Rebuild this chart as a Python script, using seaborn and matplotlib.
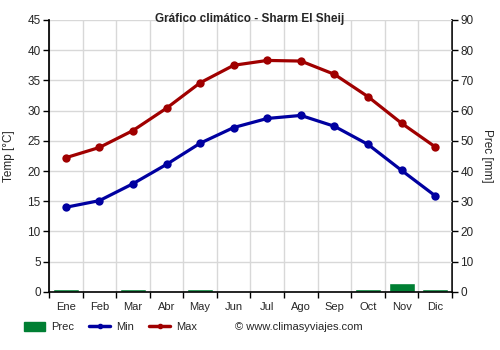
import matplotlib
matplotlib.use("Agg")
import matplotlib.pyplot as plt
import seaborn as sns
import pandas as pd
import numpy as np
from matplotlib.patches import Patch
from matplotlib.lines import Line2D

months = ["Ene", "Feb", "Mar", "Abr", "May", "Jun", "Jul", "Ago", "Sep", "Oct", "Nov", "Dic"]
temp_min = [14.0, 15.1, 17.9, 21.1, 24.6, 27.2, 28.7, 29.2, 27.4, 24.4, 20.1, 15.9]
temp_max = [22.2, 23.9, 26.7, 30.4, 34.6, 37.5, 38.3, 38.2, 36.0, 32.3, 27.9, 24.0]
prec = [1, 0, 1, 0, 1, 0, 0, 0, 0, 1, 3, 1]

c_prec = "#007F33"
c_min = "#0000A0"
c_max = "#A00000"

sns.set_theme(style="white")
plt.rcParams['font.family'] = ['Liberation Sans', 'DejaVu Sans']

df = pd.DataFrame({"month": months, "min": temp_min, "max": temp_max, "prec": prec})

fig = plt.figure(figsize=(5, 3.5), dpi=100)
ax = fig.add_axes([0.098, 0.166, 0.806, 0.777])
ax2 = ax.twinx()

sns.barplot(data=df, x="month", y="prec", ax=ax2, color=c_prec, width=0.78,
            saturation=1, order=months)
ax2.set_ylim(0, 90)
ax2.set_yticks(np.arange(0, 91, 10))
ax2.set_ylabel("Prec [mm]", rotation=270, labelpad=14, fontsize=8.5)

ax.set_zorder(ax2.get_zorder() + 1)
ax.patch.set_visible(False)

sns.lineplot(x=np.arange(12), y=temp_min, ax=ax, color=c_min, lw=2.3, marker="o",
             markersize=6, markeredgewidth=0, zorder=3)
sns.lineplot(x=np.arange(12), y=temp_max, ax=ax, color=c_max, lw=2.3, marker="o",
             markersize=6, markeredgewidth=0, zorder=3)

ax.set_xlim(-0.5, 11.5)
ax.set_ylim(0, 45)
ax.set_yticks(np.arange(0, 46, 5))
ax.set_xticks(range(12))
ax.set_xticklabels(months)
ax.set_xticks(np.arange(-0.5, 12, 1), minor=True)
ax.grid(True, which="minor", axis="x", color="#d8d8d8", lw=1, zorder=0)
ax.grid(True, which="major", axis="y", color="#d8d8d8", lw=1, zorder=0)
ax.set_axisbelow(True)
ax.set_ylabel("Temp [°C]", fontsize=8.5, labelpad=9)
ax.set_xlabel("")
ax2.set_xlabel("")

for a in (ax, ax2):
    for s in a.spines.values():
        s.set_visible(False)
ax.spines["left"].set_visible(True)
ax.spines["bottom"].set_visible(True)
ax2.spines["right"].set_visible(True)
ax.spines["left"].set_color("black")
ax.spines["bottom"].set_color("black")
ax.spines["bottom"].set_linewidth(1.2)
ax2.spines["right"].set_color("black")

ax.tick_params(axis="y", which="major", left=True, length=4, width=1, color="black",
               labelsize=8.5, pad=2)
ax.tick_params(axis="x", which="major", bottom=False, labelsize=8, pad=1)
ax.tick_params(axis="x", which="minor", bottom=True, length=4, width=1, color="black")
ax2.tick_params(axis="y", right=True, length=4, width=1, color="black", labelsize=8.5, pad=2)

fig.text(0.5, 0.947, "Gráfico climático - Sharm El Sheij", ha="center", va="center",
         fontsize=8.5, fontweight="bold")

handles = [Patch(color=c_prec, label="Prec"),
           Line2D([0], [0], color=c_min, lw=2.5, marker="o", ms=3, label="Min"),
           Line2D([0], [0], color=c_max, lw=2.5, marker="o", ms=3, label="Max")]
fig.legend(handles=handles, loc="center left", bbox_to_anchor=(0.028, 0.066), ncol=3,
           frameon=False, fontsize=8, handlelength=1.9, handleheight=0.9,
           columnspacing=1.4, handletextpad=0.5)
fig.text(0.47, 0.066, "© www.climasyviajes.com", ha="left", va="center", fontsize=8)

fig.savefig("out.png", dpi=100)
